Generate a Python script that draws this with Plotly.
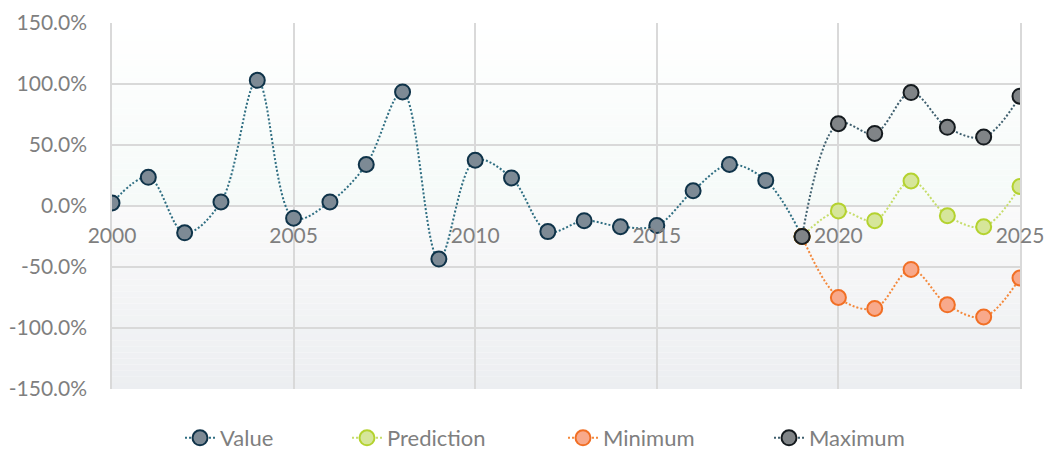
import plotly.graph_objects as go

years_hist = list(range(2000, 2020))
value = [2.5, 23.5, -22, 3.3, 103, -10, 3.3, 34, 93.5, -43.5, 37.5, 23, -21, -12, -17, -16, 12.5, 34, 21, -25]

years_fc = list(range(2019, 2026))
prediction = [-25, -4, -12, 20.5, -8, -17, 16]
minimum = [-25, -75, -84, -52, -81, -91, -59]
maximum = [-25, 67.5, 59.5, 93, 64.5, 56.5, 90]

y_ticks = [-150, -100, -50, 0, 50, 100, 150]
y_labels = ["-150.0%", "-100.0%", "-50.0%", "0.0%", "50.0%", "100.0%", "150.0%"]
x_ticks = [2000, 2005, 2010, 2015, 2020, 2025]

FONT = "Lato"
GRAY = "#7f7f7f"
GRID = "#d9d9d9"
FW, FH = 1045, 452
PL, PR, PT, PB = 112, 1020, 23, 389  # plot area in pixels
L, T, R, B = PL, PT, FW - PR, FH - PB
W = PR - PL
H = PB - PT

fig = go.Figure()


def mix(c1, c2, t):
    a = [int(c1[i:i + 2], 16) for i in (1, 3, 5)]
    b = [int(c2[i:i + 2], 16) for i in (1, 3, 5)]
    return "rgb(%d,%d,%d)" % tuple(round(a[k] + (b[k] - a[k]) * t) for k in range(3))


# background gradient bands (beneath grid)
step = 5
for lo in range(-150, 150, step):
    mid = lo + step / 2
    if mid >= 0:
        col = mix("#f5faf8", "#ffffff", mid / 150)
    else:
        col = mix("#fafafa", "#eceef1", -mid / 150)
    fig.add_shape(type="rect", xref="x domain", yref="y", x0=0, x1=1, y0=lo, y1=lo + step,
                  fillcolor=col, line=dict(width=0), layer="below")

series = [
    ("Value", years_hist, value, "#2f6e82", "#7d8a95", "#0f3349"),
    ("Prediction", years_fc, prediction, "#c6dd6b", "#d6e69a", "#b4d22f"),
    ("Minimum", years_fc, minimum, "#f4883b", "#f8a98b", "#f16f25"),
    ("Maximum", years_fc, maximum, "#3f5f6e", "#808487", "#141a1e"),
]
legend_names = ["legend", "legend2", "legend3", "legend4"]
legend_left_px = [180, 347, 563, 769]

for (name, xs, ys, lc, fc, oc), lg in zip(series, legend_names):
    fig.add_trace(go.Scatter(
        x=xs, y=ys, name=name, mode="lines+markers", legend=lg,
        line=dict(color=lc, width=2, dash="2px,2px", shape="spline", smoothing=1.0),
        marker=dict(size=15, color=fc, line=dict(color=oc, width=2)),
    ))

legend_y = -(438 - PB) / H
layout_legends = {}
for lg, px in zip(legend_names, legend_left_px):
    layout_legends[lg] = dict(orientation="h", x=(px - PL) / W, xanchor="left", y=legend_y,
                              yanchor="middle", bgcolor="rgba(0,0,0,0)",
                              font=dict(family=FONT, size=22, color=GRAY))

fig.update_layout(
    width=FW, height=FH,
    margin=dict(l=L, r=R, t=T, b=B, autoexpand=False),
    paper_bgcolor="white", plot_bgcolor="white",
    font=dict(family=FONT, size=21, color=GRAY),
    showlegend=True,
    xaxis=dict(range=[2000, 2025], tickvals=x_ticks, showgrid=True, gridcolor=GRID, gridwidth=1.5,
               zeroline=False, anchor="free", position=0.5, showline=False, automargin=False,
               ticks="outside", ticklen=11, tickcolor="rgba(0,0,0,0)",
               tickfont=dict(family=FONT, size=21, color=GRAY)),
    yaxis=dict(range=[-150, 150], tickvals=y_ticks, ticktext=y_labels, showgrid=True, automargin=False,
               gridcolor=GRID, gridwidth=1.5, zeroline=True, zerolinecolor=GRID, zerolinewidth=1.5,
               showline=True, mirror=True, linecolor=GRID, linewidth=1.5,
               ticks="outside", ticklen=19, tickcolor="rgba(0,0,0,0)",
               tickfont=dict(family=FONT, size=21, color=GRAY)),
    **layout_legends,
)

fig.write_html("out.html", config={"displayModeBar": False},
               post_script="document.body.style.margin='0';document.body.style.overflow='hidden';")
